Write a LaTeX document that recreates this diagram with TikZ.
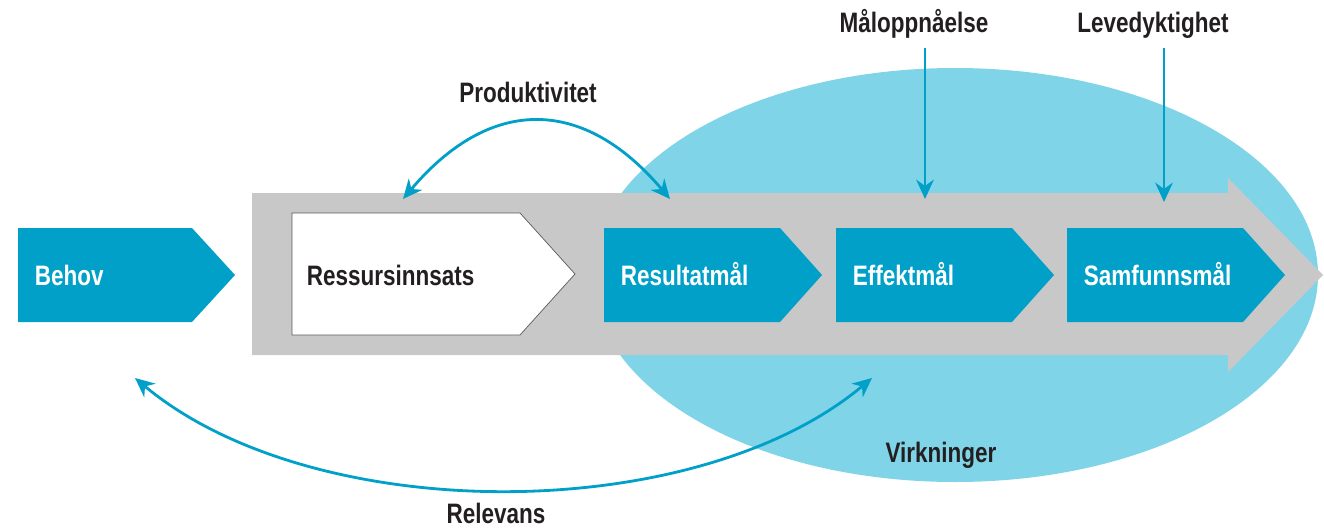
\documentclass[tikz,border=0pt]{standalone}
\usepackage{fontspec}
\setmainfont{Liberation Sans}[FakeStretch=0.8]
\usepackage{xcolor}
\usetikzlibrary{arrows.meta,calc}

\definecolor{boxblue}{RGB}{0,160,200}
\definecolor{ellblue}{RGB}{128,212,232}
\definecolor{bandgray}{RGB}{200,200,200}
\definecolor{inkdark}{RGB}{35,31,32}

\tikzset{
    lbl/.style={font=\fontsize{16}{18}\selectfont\bfseries, text=inkdark, inner sep=2pt},
    goaltxt/.style={lbl, text=white, anchor=base west},
    link/.style={draw=boxblue, line width=1.6pt, -{Stealth[length=11pt,width=10pt]}},
    twolink/.style={link, {Stealth[length=11pt,width=10pt]}-{Stealth[length=11pt,width=10pt]}}
}

\begin{document}
\begin{tikzpicture}[x=0.02cm, y=-0.02cm]
    \useasboundingbox (0,0) rectangle (1324,527);

    % Virkninger
    \fill [ellblue] (955,275) ellipse (363 and 207);
    \node [lbl, anchor=base] (virk) at (941,462) {Virkninger};

    % Gray process arrow
    \fill [bandgray] (252,193) -- (1228,193) -- (1228,178) -- (1323,275)
        -- (1228,372) -- (1228,355) -- (252,355) -- cycle;

    % Behov
    \fill [boxblue] (18,228) -- (192,228) -- (235,275) -- (192,322) -- (18,322) -- cycle;
    \node [goaltxt] (behov) at (31,285) {Behov};

    % Ressursinnsats
    \draw [gray!70!black, fill=white] (292,213) -- (520,213) -- (575,274)
        -- (520,335) -- (292,335) -- cycle;
    \node [lbl, anchor=base west] (ress) at (303,285) {Ressursinnsats};

    % Goals
    \foreach \x/\name/\txt in {604/res/Resultatmål, 836/eff/Effektmål, 1067/sam/Samfunnsmål} {
        \fill [boxblue] (\x,228) -- ++(176,0) -- ++(42,47) -- ++(-42,47) -- ++(-176,0) -- cycle;
        \node [goaltxt] (\name) at (\x+13,285) {\txt};
    }

    % Arrow ends
    \coordinate (effTop) at (925,199);
    \coordinate (samTop) at (1164,202);
    \coordinate (ressTop) at (403,199);
    \coordinate (resTop) at (670,199);
    \coordinate (behovLow) at (135,378);
    \coordinate (effLow) at (872,378);

    % Top labels
    \node [lbl, anchor=base] (maal) at (914,33) {Måloppnåelse};
    \node [lbl, anchor=base] (leve) at (1153,33) {Levedyktighet};
    \draw [link] ($(maal.south -| effTop)+(0,5)$) -- (effTop);
    \draw [link] ($(leve.south -| samTop)+(0,5)$) -- (samTop);

    % Produktivitet
    \node [lbl, anchor=base] (prod) at (528,103) {Produktivitet};
    \draw [twolink] (ressTop) .. controls (490,96) and (583,96) .. (resTop);

    % Relevans
    \node [lbl, anchor=base] (relev) at (496,523) {Relevans};
    \draw [twolink] (behovLow) .. controls (313,527) and (694,527) .. (effLow);
\end{tikzpicture}
\end{document}
